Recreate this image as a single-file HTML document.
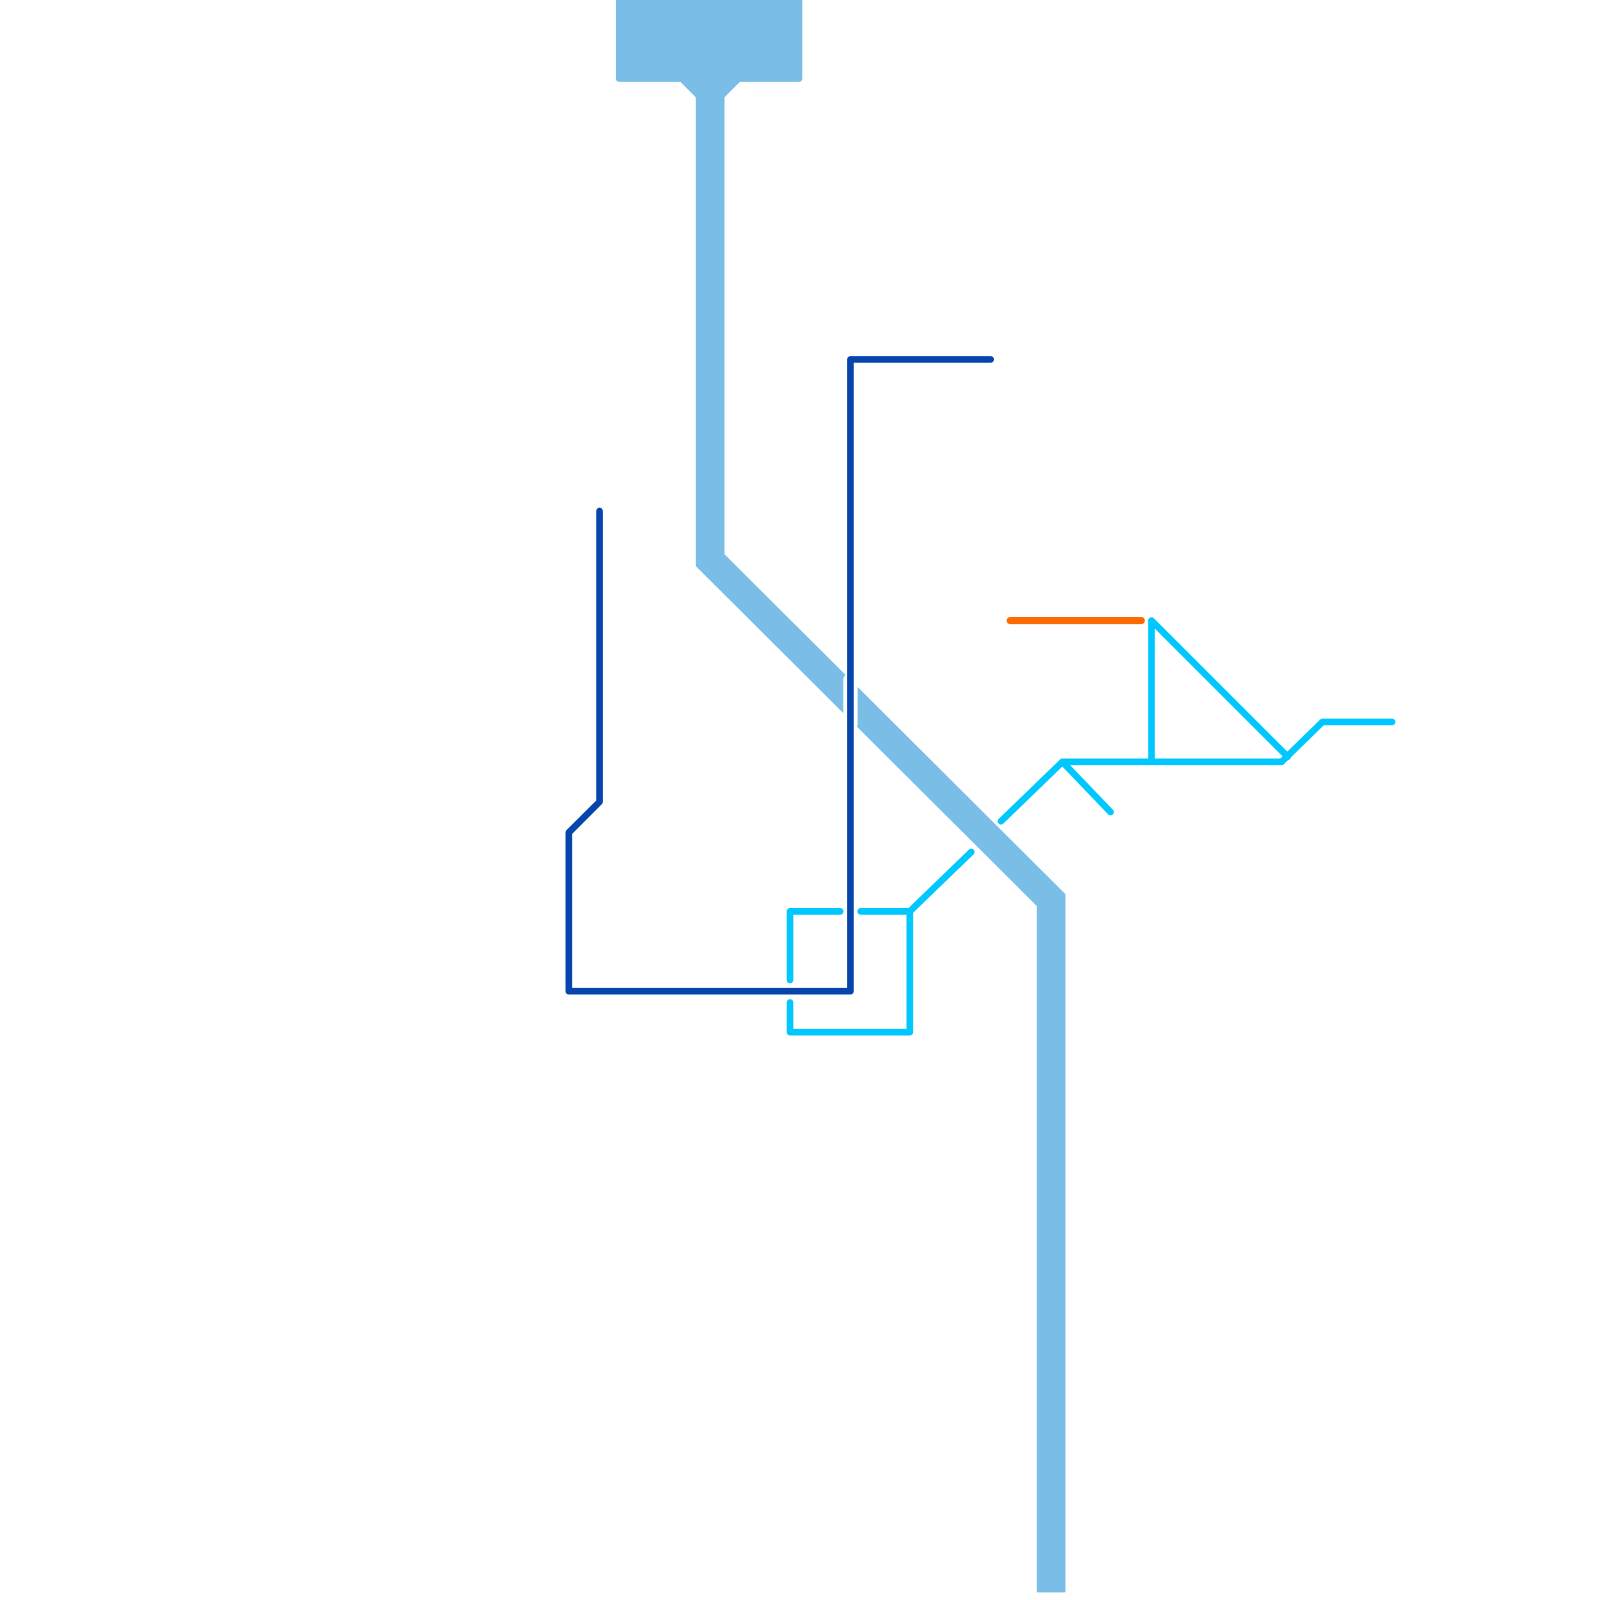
<!DOCTYPE html>
<html><head><style>html,body{margin:0;padding:0;background:#fff}svg{display:block}</style></head>
<body>
<svg width="1600" height="1600" viewBox="0 0 1562.5 1562.5" xmlns="http://www.w3.org/2000/svg">
<g fill="none" stroke-linecap="round" stroke-linejoin="round" transform="translate(-2.5,-1)">
<rect x="604" y="-5" width="182" height="86" rx="3" fill="#7abee8"/>
<polygon points="664,78 684,98 708,98 728,78" fill="#7abee8"/>
<polyline points="696,90 696,548 1029,880 1029,1556" stroke="#7abee8" stroke-width="28" stroke-linejoin="miter" stroke-linecap="butt"/>
<line x1="833" y1="665" x2="833" y2="708" stroke="#fff" stroke-width="14" stroke-linecap="round"/>
<polyline points="588,500 588,784 558,814 558,969 833,969 833,352 970,352" stroke="#0645ab" stroke-width="6.5"/>
<g stroke="#00c8ff" stroke-width="6.5">
<polyline points="774,958 774,891 823,891"/>
<polyline points="843,891 891,891 951,833"/>
<polyline points="891,891 891,1009 774,1009 774,980"/>
<polyline points="980,803 1040,745 1087,794"/>
<polyline points="1040,745 1254,745 1294,706 1362,706"/>
<polyline points="1127,745 1127,607 1260,740"/>
</g>
<line x1="989" y1="607" x2="1117" y2="607" stroke="#ff6a00" stroke-width="7"/>
</g>
</svg>
</body></html>
